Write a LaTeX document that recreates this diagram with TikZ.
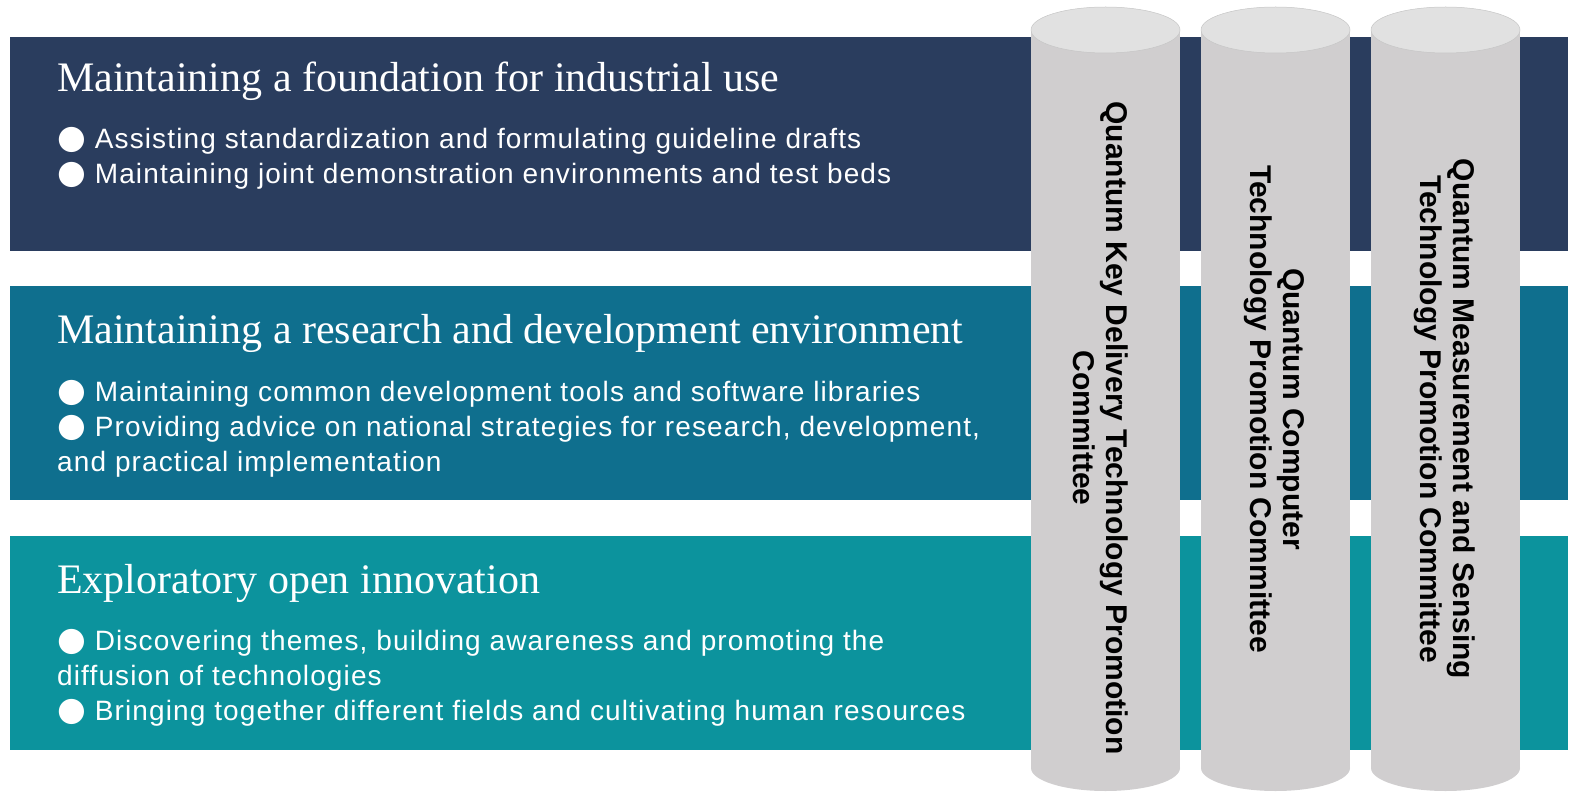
\documentclass[tikz,border=0pt]{standalone}
\usepackage{fontspec}
\setmainfont{Liberation Sans}
\newfontfamily\headfont{Liberation Serif}
\newfontfamily\itemfont[LetterSpace=4]{Liberation Sans}
\newfontfamily\bulfont{DejaVu Sans}

\definecolor{bandA}{HTML}{2A3D5E}
\definecolor{bandB}{HTML}{0F6F8E}
\definecolor{bandC}{HTML}{0C939D}
\definecolor{pillar}{HTML}{D0CECF}
\definecolor{pillartop}{HTML}{E1E1E1}

\newcommand\bul{{\bulfont\fontsize{33}{35}\selectfont ●}}

\tikzset{
  heading/.style={anchor=base west,inner sep=0pt,text=white,font=\headfont\fontsize{42}{46}\selectfont},
  items/.style={anchor=base west,inner sep=0pt,text=white,align=left,font=\itemfont\fontsize{28}{35}\selectfont},
  pillarlabel/.style={rotate=-90,align=center,inner sep=0pt,font=\bfseries\fontsize{30}{33}\selectfont},
}

\begin{document}
\begin{tikzpicture}[x=1pt,y=-1pt]
  \useasboundingbox (0,0) rectangle (1571,794);

  % the three bands
  \path[fill=bandA] (10,37) rectangle (1568,251);
  \path[fill=bandB] (10,286) rectangle (1568,500);
  \path[fill=bandC] (10,536) rectangle (1568,750);

  % base of a list node = baseline of its last line
  \node[heading] (headA) at (57,92) {Maintaining a foundation for industrial use};
  \node[items] (itemsA) at (57,184) {\bul\ Assisting standardization and formulating guideline drafts\\
    \bul\ Maintaining joint demonstration environments and test beds};

  \node[heading] (headB) at (57,343) {Maintaining a research and development environment};
  \node[items] (itemsB) at (57,471) {\bul\ Maintaining common development tools and software libraries\\
    \bul\ Providing advice on national strategies for research, development,\\
    and practical implementation};

  \node[heading] (headC) at (57,593) {Exploratory open innovation};
  \node[items] (itemsC) at (57,720) {\bul\ Discovering themes, building awareness and promoting the\\
    diffusion of technologies\\
    \bul\ Bringing together different fields and cultivating human resources};

  % pillars
  \foreach \cx in {1105.5,1275.5,1445.5}{
    \path[fill=pillar] (\cx-74.5,30) rectangle (\cx+74.5,768);
    \path[fill=pillar] (\cx,768) ellipse [x radius=74.5,y radius=23];
    \path[fill=pillartop,draw=gray!45,line width=0.5pt] (\cx,30) ellipse [x radius=74.5,y radius=23];
  }

  \node[pillarlabel] (qkd) at (1101,428) {Quantum Key Delivery Technology Promotion\\Committee};
  \node[pillarlabel] (qc) at (1274,409) {Quantum Computer\\Technology Promotion Committee};
  \node[pillarlabel] (qms) at (1445,419) {Quantum Measurement and Sensing\\Technology Promotion Committee};
\end{tikzpicture}
\end{document}
